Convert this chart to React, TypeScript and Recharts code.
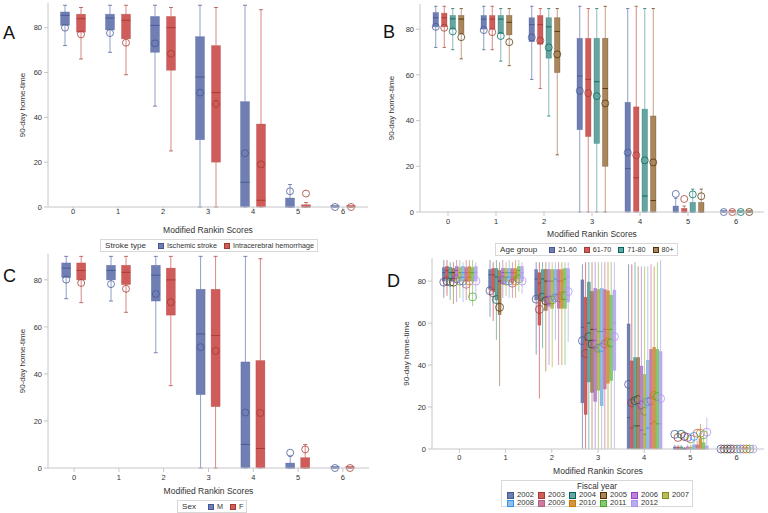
import React from "react";
import { ComposedChart, Bar, XAxis, YAxis } from "recharts";

const MRS_SCORES = ["0", "1", "2", "3", "4", "5", "6"];
const Y_TICKS = [0, 20, 40, 60, 80];
const Y_MAX = 91;

// each row: [min, q1, median, q3, max, mean] for mRS 0..6
const A_ISCHEMIC = [
  [72, 81, 85.5, 87, 90, 80],
  [69, 79, 84.3, 86, 90, 77.6],
  [45, 69, 81, 85, 90, 73],
  [0, 30, 58, 76, 90, 51],
  [0, 0, 11, 47, 90, 24],
  [0, 0, 0, 4, 10, 7],
  [0, 0, 0, 0, 0, 0.2],
];
const A_ICH = [
  [66, 78, 84, 86, 89, 77],
  [59, 75, 83.3, 86, 90, 73.3],
  [25, 61, 80, 85, 89, 68.4],
  [0, 20, 51, 72, 89, 46],
  [0, 0, 3, 37, 88, 19],
  [0, 0, 0, 1, 2, 6],
  [0, 0, 0, 0, 0, 0.2],
];

const B_21_60 = [
  [72, 81, 85, 87.3, 90, 81],
  [71, 80, 84.4, 86, 90, 79.6],
  [58, 74.5, 82, 85, 90, 76.4],
  [0, 36, 59.5, 76, 90, 53],
  [0, 0, 19, 48, 89, 26],
  [0, 0, 0, 2.6, 6, 7.9],
  [0, 0, 0, 0, 0, 0.2],
];
const B_61_70 = [
  [72, 81, 85, 87, 90, 80.6],
  [71, 80, 84.4, 86, 90, 78.7],
  [54, 73.4, 82, 86, 89, 75],
  [0, 33, 58, 76, 89, 52],
  [0, 0, 15, 46, 90, 24.8],
  [0, 0, 0, 1.6, 2.6, 5.7],
  [0, 0, 0, 0, 0, 0.2],
];
const B_71_80 = [
  [71, 80, 84.5, 86, 89, 79],
  [66, 78, 84.4, 86, 89, 77],
  [42, 67.3, 81, 85, 89, 72],
  [0, 30, 57, 76, 89, 50.7],
  [0, 0, 7, 45, 89, 22.6],
  [0, 0, 0, 4.2, 10, 7.7],
  [0, 0, 0, 0, 0, 0.2],
];
const B_80_PLUS = [
  [67, 78, 84.4, 86, 89, 76.5],
  [64, 77.5, 83, 86, 89, 74.3],
  [25, 61, 79, 85, 89, 69],
  [0, 20, 54, 76, 90, 47.5],
  [0, 0, 5, 42, 89, 21.7],
  [0, 0, 0, 4.2, 10, 6.9],
  [0, 0, 0, 0, 0, 0.2],
];

const C_MALE = [
  [72, 81, 85, 87.2, 90, 80.1],
  [71, 80, 84, 86.2, 90, 78.2],
  [49, 71, 82, 86.2, 90, 74],
  [0, 31.2, 57, 76, 90, 51.4],
  [0, 0, 10, 45.1, 90, 23.6],
  [0, 0, 0, 2.1, 5, 6.5],
  [0, 0, 0, 0, 0, 0.2],
];
const C_FEMALE = [
  [70.3, 80, 84, 87.2, 90, 78.7],
  [66.2, 78, 83.2, 86.2, 90, 76.2],
  [35, 65, 80, 85, 90, 70.5],
  [0, 26.1, 56.3, 76, 90, 49.8],
  [0, 0, 8.3, 45.7, 89, 23.4],
  [0, 0, 0, 4.4, 10, 7.9],
  [0, 0, 0, 0, 0, 0.2],
];

const D_2002 = [
  [72, 80, 84, 86.5, 90, 79.5],
  [63, 76, 83, 85.5, 90, 75.4],
  [45, 71, 81, 85.5, 89, 71.4],
  [0, 22, 58, 80.6, 88, 51.6],
  [0, 0, 15, 59.6, 88, 30.8],
  [0, 0, 0, 1, 2, 7],
  [0, 0, 0, 0, 0, 0.1],
];
const D_2003 = [
  [73, 81, 85, 87, 90, 80],
  [61, 75, 83, 86, 89, 74.4],
  [24, 59, 79, 84, 89, 66.5],
  [0, 16.4, 52, 72.3, 89, 45.5],
  [0, 0, 10, 42, 88, 22],
  [0, 0, 0, 1, 2, 5.5],
  [0, 0, 0, 0, 0, 0.1],
];
const D_2004 = [
  [71, 80, 84, 86.5, 89, 79.5],
  [52, 71, 82, 86, 90, 71.2],
  [48, 71, 81, 85.5, 89, 72.3],
  [0, 32, 60, 79.5, 89, 53.5],
  [0, 0, 11, 43.5, 89, 23],
  [0, 0, 0, 1, 2, 7],
  [0, 0, 0, 0, 0, 0.1],
];
const D_2005 = [
  [69, 80, 84, 86, 89, 79.5],
  [30, 64, 80, 85, 89, 67.5],
  [37, 66, 80, 85.5, 89, 70.6],
  [0, 27, 57, 75, 89, 50],
  [0, 0, 11, 43.5, 87, 23.5],
  [0, 0, 0, 0.5, 1, 6],
  [0, 0, 0, 0, 0, 0.1],
];
const D_2006 = [
  [70, 81, 85, 87, 90, 81],
  [72, 79, 84, 86, 90, 80.5],
  [40, 68, 80, 85.5, 89, 71],
  [0, 22.7, 57, 76.5, 89, 50],
  [0, 0, 9, 39.5, 87, 21],
  [0, 0, 0, 1, 2, 5.5],
  [0, 0, 0, 0, 0, 0.1],
];
const D_2007 = [
  [72, 80, 84, 86.5, 90, 80],
  [73, 80, 84, 86, 89, 80],
  [39, 67, 80, 85.5, 89, 71],
  [0, 28, 56, 76, 89, 48],
  [0, 0, 7, 35.5, 87, 18],
  [0, 0, 0, 1, 2, 4.8],
  [0, 0, 0, 0, 0, 0.1],
];
const D_2008 = [
  [70, 80, 84, 87, 89, 80],
  [72, 79.5, 84, 86, 90, 80],
  [52, 71, 81, 85.5, 89, 72],
  [0, 20.6, 56, 76.5, 89, 48.4],
  [0, 0, 10, 42.3, 87, 22.5],
  [0, 0, 0, 2, 5, 6],
  [0, 0, 0, 0, 0, 0.1],
];
const D_2009 = [
  [71, 80, 84, 86.5, 90, 78.5],
  [72, 79, 84, 86, 89, 79],
  [40, 67, 80, 85.5, 89, 72],
  [0, 28.6, 57, 76, 89, 50],
  [0, 0, 12, 47.5, 88, 23],
  [0, 0, 0, 2, 4, 7.5],
  [0, 0, 0, 0, 0, 0.1],
];
const D_2010 = [
  [72, 80, 84, 87, 90, 80],
  [72, 80, 84, 86, 90, 80],
  [40, 67, 80, 85.5, 89, 73],
  [0, 31.3, 57, 75.4, 89, 51],
  [0, 0, 13, 48.5, 87, 25.5],
  [0, 0, 0, 5, 12, 7.5],
  [0, 0, 0, 0, 0, 0.1],
];
const D_2011 = [
  [68, 80, 84, 86.5, 90, 72.5],
  [75, 81, 85, 87, 90, 81],
  [40, 67, 81, 86, 89, 73],
  [0, 32.6, 57, 73.3, 89, 50.5],
  [0, 0, 12, 47.5, 89, 25],
  [0, 0, 0, 3, 7, 6.8],
  [0, 0, 0, 0, 0, 0.1],
];
const D_2012 = [
  [72, 80, 84, 87, 89, 80],
  [74, 80, 84, 87, 89, 80],
  [51, 70, 82, 86, 89, 75],
  [0, 37.4, 60, 75.7, 89, 53.5],
  [0, 0, 12, 46.5, 90, 24],
  [0, 0, 0, 1.5, 15, 8],
  [0, 0, 0, 0, 0, 0.1],
];

const FILLS = ["#6F7EB3", "#D05B5B", "#66A5A0", "#A9865B", "#B689CD", "#BABC5A", "#94BDE1", "#CD7BA1", "#CF974B", "#87C873", "#B7AEF1"];
const LINES = ["#445694", "#A23A2E", "#01665E", "#543005", "#9D3CDB", "#7F8E1F", "#2597FA", "#B26084", "#D17800", "#47A82A", "#B38EF3"];

const FRAME = "#C6C6CC";
const TEXT = "#333";

type Series = { name: string; stats: number[][] };

const buildRows = (series: Series[]) =>
  MRS_SCORES.map((mrs, i) => {
    const row: any = { mrs };
    series.forEach((s, k) => {
      row[`s${k}`] = s.stats[i];
    });
    return row;
  });

// box drawn inside the [min, max] range bar, positions interpolated from the bar's own pixels
const boxShape = (key: string, fill: string, line: string, r: number, capRatio: number) => (props: any) => {
  const { x, y, width, height, payload } = props;
  const st: number[] = payload[key];
  const [lo, q1, med, q3, hi, mean] = st;
  const top = Math.min(y, y + height);
  const bot = Math.max(y, y + height);
  const span = hi - lo;
  const py = (v: number) => (span > 0 ? bot - ((v - lo) / span) * (bot - top) : bot);
  const cx = x + width / 2;
  const cap = (width * capRatio) / 2;
  const boxH = py(q1) - py(q3);
  return (
    <g>
      <line x1={cx} x2={cx} y1={py(hi)} y2={py(q3)} stroke={fill} strokeOpacity={0.75} />
      <line x1={cx} x2={cx} y1={py(q1)} y2={py(lo)} stroke={fill} strokeOpacity={0.75} />
      {cap > 0 && <line x1={cx - cap} x2={cx + cap} y1={py(hi)} y2={py(hi)} stroke={line} strokeOpacity={0.7} />}
      {cap > 0 && <line x1={cx - cap} x2={cx + cap} y1={py(lo)} y2={py(lo)} stroke={line} strokeOpacity={0.7} />}
      {boxH > 0.5 ? (
        <rect x={x} y={py(q3)} width={width} height={boxH} fill={fill} stroke={line} strokeOpacity={0.45} strokeWidth={0.6} />
      ) : (
        <rect x={x} y={py(q3) - 1.8} width={width} height={1.6} fill={fill} />
      )}
      <line x1={x} x2={x + width} y1={py(med)} y2={py(med)} stroke={line} strokeWidth={0.9} />
      <circle cx={cx} cy={py(mean)} r={r} fill="none" stroke={line} strokeOpacity={0.85} strokeWidth={0.9} />
    </g>
  );
};

type PanelProps = {
  left: number;
  top: number;
  width: number;
  height: number;
  margin: { top: number; right: number; bottom: number; left: number };
  yAxisWidth: number;
  series: Series[];
  barSize: number;
  barGap: number;
  xPad: number;
  xTickSize: number;
  xTickMargin: number;
  yLabelDx: number;
  xLabelDy: number;
  r: number;
  capRatio: number;
};

const BoxPanel = (p: PanelProps) => {
  const rows = buildRows(p.series);
  const yLabel = (props: any) => {
    const vb = props.viewBox || { x: 0, y: p.margin.top, width: p.yAxisWidth, height: 200 };
    const cx = vb.x + p.yLabelDx;
    const cy = vb.y + vb.height / 2;
    return (
      <text x={cx} y={cy} transform={`rotate(-90, ${cx}, ${cy})`} textAnchor="middle" dominantBaseline="central" fontSize={8} fill={TEXT}>
        90-day home-time
      </text>
    );
  };
  const xLabel = (props: any) => {
    const vb = props.viewBox || { x: p.yAxisWidth, y: 200, width: 300, height: 30 };
    return (
      <text x={vb.x + vb.width / 2} y={vb.y + p.xLabelDy} textAnchor="middle" dominantBaseline="central" fontSize={8.5} fill={TEXT}>
        Modified Rankin Scores
      </text>
    );
  };
  return (
    <div style={{ position: "absolute", left: p.left, top: p.top }}>
      <ComposedChart
        width={p.width}
        height={p.height}
        data={rows}
        margin={p.margin}
        barSize={p.barSize}
        barGap={p.barGap}
      >
        <XAxis
          dataKey="mrs"
          type="category"
          height={30}
          padding={{ left: p.xPad, right: p.xPad }}
          axisLine={{ stroke: FRAME }}
          tickLine={{ stroke: FRAME }}
          tickSize={p.xTickSize}
          tickMargin={p.xTickMargin}
          tick={{ fontSize: 7.5, fill: TEXT }}
          interval={0}
          label={xLabel}
        />
        <XAxis xAxisId="top" dataKey="mrs" orientation="top" height={0} tick={false} tickLine={false} axisLine={{ stroke: FRAME }} />
        <YAxis
          type="number"
          domain={[0, Y_MAX]}
          ticks={Y_TICKS}
          width={p.yAxisWidth}
          axisLine={{ stroke: FRAME }}
          tickLine={{ stroke: FRAME }}
          tickSize={4}
          tickMargin={2}
          tick={{ fontSize: 7.5, fill: TEXT }}
          label={yLabel}
        />
        <YAxis yAxisId="right" orientation="right" type="number" domain={[0, Y_MAX]} width={0} tick={false} tickLine={false} axisLine={{ stroke: FRAME }} />
        {p.series.map((s, k) => (
          <Bar
            key={s.name}
            name={s.name}
            dataKey={(d: any) => [d[`s${k}`][0], d[`s${k}`][4]]}
            fill={FILLS[k]}
            isAnimationActive={false}
            shape={boxShape(`s${k}`, FILLS[k], LINES[k], p.r, p.capRatio)}
          />
        ))}
      </ComposedChart>
    </div>
  );
};

type LegendProps = { left: number; top: number; title: string; names: string[] };

const BoxLegend = ({ left, top, title, names }: LegendProps) => (
  <div
    style={{
      position: "absolute",
      left,
      top,
      border: "1px solid #D8D8D8",
      padding: "0px 3px 0px 4px",
      height: 11,
      display: "flex",
      alignItems: "center",
      fontSize: 7.2,
      color: TEXT,
      whiteSpace: "nowrap",
    }}
  >
    <span style={{ fontSize: 8.1, marginRight: 12 }}>{title}</span>
    {names.map((n, k) => (
      <span key={n} style={{ display: "flex", alignItems: "center", marginRight: k === names.length - 1 ? 0 : 7 }}>
        <span style={{ width: 4, height: 4, background: FILLS[k], border: `0.5px solid ${LINES[k]}`, marginRight: 3 }} />
        {n}
      </span>
    ))}
  </div>
);

const FiscalLegend = ({ left, top, names }: { left: number; top: number; names: string[] }) => (
  <div
    style={{
      position: "absolute",
      left,
      top,
      width: 190,
      height: 25,
      border: "1px solid #D8D8D8",
      fontSize: 7.6,
      color: TEXT,
    }}
  >
    <div style={{ textAlign: "center", fontSize: 8.3, lineHeight: "9px", marginTop: 1 }}>Fiscal year</div>
    <div style={{ display: "grid", gridTemplateColumns: "repeat(6, 31px)", paddingLeft: 5, lineHeight: "8px" }}>
      {names.map((n, k) => (
        <span key={n} style={{ display: "flex", alignItems: "center", whiteSpace: "nowrap" }}>
          <span style={{ width: 5, height: 5, background: FILLS[k], border: `0.5px solid ${LINES[k]}`, marginRight: 3 }} />
          {n}
        </span>
      ))}
    </div>
  </div>
);

const STROKE_SERIES: Series[] = [
  { name: "Ischemic stroke", stats: A_ISCHEMIC },
  { name: "Intracerebral hemorrhage", stats: A_ICH },
];
const AGE_SERIES: Series[] = [
  { name: "21-60", stats: B_21_60 },
  { name: "61-70", stats: B_61_70 },
  { name: "71-80", stats: B_71_80 },
  { name: "80+", stats: B_80_PLUS },
];
const SEX_SERIES: Series[] = [
  { name: "M", stats: C_MALE },
  { name: "F", stats: C_FEMALE },
];
const YEAR_SERIES: Series[] = [
  { name: "2002", stats: D_2002 },
  { name: "2003", stats: D_2003 },
  { name: "2004", stats: D_2004 },
  { name: "2005", stats: D_2005 },
  { name: "2006", stats: D_2006 },
  { name: "2007", stats: D_2007 },
  { name: "2008", stats: D_2008 },
  { name: "2009", stats: D_2009 },
  { name: "2010", stats: D_2010 },
  { name: "2011", stats: D_2011 },
  { name: "2012", stats: D_2012 },
];

const letter = (t: string, x: number, y: number) => (
  <div style={{ position: "absolute", left: x, top: y, fontSize: 18, lineHeight: "18px", color: "#111" }}>{t}</div>
);

export default function App() {
  return (
    <div
      style={{
        position: "absolute",
        left: 0,
        top: 0,
        width: 768,
        height: 513,
        background: "#fff",
        overflow: "hidden",
        fontFamily: "'Liberation Sans', Arial, sans-serif",
      }}
    >
      <BoxPanel
        left={0} top={0} width={384} height={256}
        margin={{ top: 3, right: 16, bottom: 19, left: 0 }}
        yAxisWidth={48} series={STROKE_SERIES} barSize={9} barGap={7} xPad={2.5}
        xTickSize={2} xTickMargin={0} yLabelDx={22} xLabelDy={23} r={3.5} capRatio={0.45}
      />
      <BoxPanel
        left={384} top={0} width={384} height={256}
        margin={{ top: 4, right: 4, bottom: 14, left: 0 }}
        yAxisWidth={36} series={AGE_SERIES} barSize={5.5} barGap={3} xPad={4}
        xTickSize={4} xTickMargin={3} yLabelDx={7} xLabelDy={22} r={3.5} capRatio={0.6}
      />
      <BoxPanel
        left={0} top={250} width={384} height={263}
        margin={{ top: 4, right: 15, bottom: 15, left: 0 }}
        yAxisWidth={48} series={SEX_SERIES} barSize={9} barGap={6} xPad={3.7}
        xTickSize={4} xTickMargin={3} yLabelDx={22} xLabelDy={23} r={3.5} capRatio={0.45}
      />
      <BoxPanel
        left={384} top={250} width={384} height={263}
        margin={{ top: 8, right: 4, bottom: 34, left: 0 }}
        yAxisWidth={48} series={YEAR_SERIES} barSize={3} barGap={0.2} xPad={4.3}
        xTickSize={4} xTickMargin={2} yLabelDx={22} xLabelDy={22} r={4} capRatio={0}
      />
      <BoxLegend left={100} top={239} title="Stroke type" names={STROKE_SERIES.map((s) => s.name)} />
      <BoxLegend left={495} top={243} title="Age group" names={AGE_SERIES.map((s) => s.name)} />
      <BoxLegend left={177} top={500} title="Sex" names={SEX_SERIES.map((s) => s.name)} />
      <FiscalLegend left={501} top={480} names={YEAR_SERIES.map((s) => s.name)} />
      {letter("A", 3, 24)}
      {letter("B", 383, 23)}
      {letter("C", 3, 267)}
      {letter("D", 387, 272)}
    </div>
  );
}
